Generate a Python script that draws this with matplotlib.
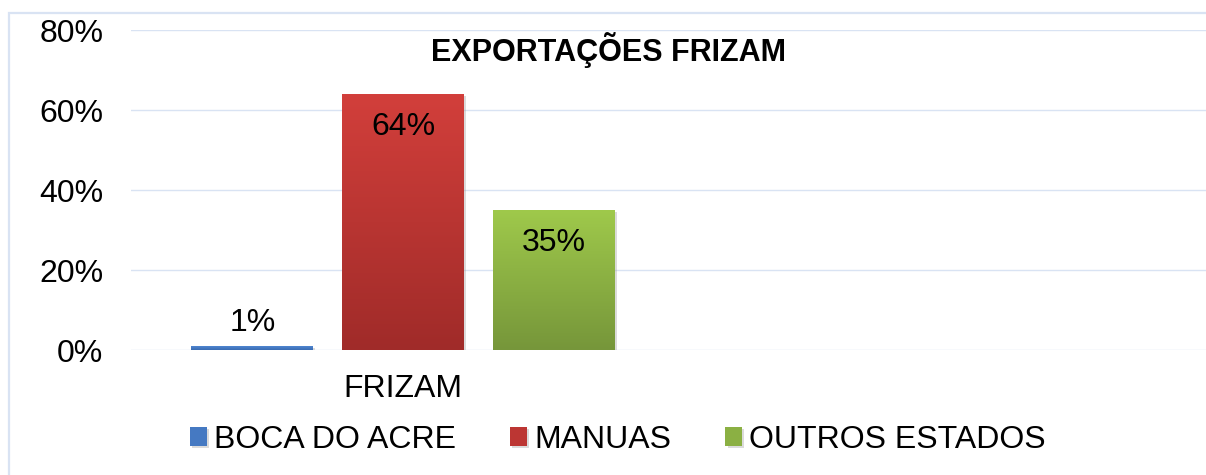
import matplotlib
matplotlib.use("Agg")
import matplotlib.pyplot as plt
import numpy as np
from matplotlib.patches import Rectangle
from matplotlib.colors import LinearSegmentedColormap
import matplotlib.patheffects as pe

plt.rcParams['font.family'] = ['Liberation Sans', 'DejaVu Sans']

# ---- data ----
title = "EXPORTAÇÕES FRIZAM"
categories = ["FRIZAM", ""]
series_names = ["BOCA DO ACRE", "MANUAS", "OUTROS ESTADOS"]
values = [1, 64, 35]  # percent, for category FRIZAM
yticks = [0, 20, 40, 60, 80]
ytick_labels = ["0%", "20%", "40%", "60%", "80%"]

# ---- style ----
top_colors = ["#4F86D0", "#D23F3B", "#9FC94B"]
bot_colors = ["#3A6BB2", "#A02B29", "#76963A"]
mid_colors = ["#4579C2", "#BC3633", "#8BB043"]
grid_color = "#D9E3F3"
W, H = 1206, 475

fig = plt.figure(figsize=(W / 100, H / 100), dpi=100)
fig.patch.set_facecolor("white")

# chart frame (extends past the cropped right/bottom edges)
frame = Rectangle((8.5 / W, -0.1), 1.2, (H - 12.5) / H + 0.1, transform=fig.transFigure,
                  fill=False, edgecolor=grid_color, linewidth=1.6)
fig.patches.append(frame)

ax = fig.add_axes([131 / W, (H - 350) / H, 1 - 131 / W, 320 / H])
ax.set_facecolor("none")

cat_px = 544.0
xl = -0.5
xr = (W - 403) / cat_px
ax.set_xlim(xl, xr)
ax.set_ylim(0, 80)

width = 122 / cat_px
offsets = [-0.277, 0.0, 0.278]

for i, (name, v) in enumerate(zip(series_names, values)):
    bars = ax.bar(0 + offsets[i], v, width=width, color=mid_colors[i], label=name,
                  zorder=3, linewidth=0,
                  path_effects=[pe.SimplePatchShadow(offset=(1.5, -1.5), shadow_rgbFace="#999999", alpha=0.35), pe.Normal()])
    b = bars[0]
    cmap = LinearSegmentedColormap.from_list("g%d" % i, [bot_colors[i], top_colors[i]])
    grad = np.linspace(0, 1, 256).reshape(-1, 1)
    im = ax.imshow(grad, cmap=cmap, aspect="auto", origin="lower",
                   extent=[b.get_x(), b.get_x() + b.get_width(), 0, v], zorder=4)
    im.set_clip_path(b)
    if v < 8:
        ax.annotate(f"{v}%", (b.get_x() + b.get_width() / 2, v), xytext=(0, 6),
                    textcoords="offset points", ha="center", va="bottom", fontsize=23, zorder=5)
    else:
        ax.annotate(f"{v}%", (b.get_x() + b.get_width() / 2, v), xytext=(0, -24),
                    textcoords="offset points", ha="center", va="center", fontsize=23, zorder=5)

ax.set_xlim(xl, xr)
ax.set_ylim(0, 80)
ax.set_yticks(yticks)
ax.set_yticklabels(ytick_labels, fontsize=23)
ax.set_xticks([0])
ax.set_xticklabels([categories[0]], fontsize=23)
ax.tick_params(axis="y", length=0, pad=20)
ax.tick_params(axis="x", length=0, pad=17)
for s in ax.spines.values():
    s.set_visible(False)
ax.yaxis.grid(True, color=grid_color, linewidth=1.0, zorder=0)
ax.set_axisbelow(True)

fig.text(608.5 / W, 1 - 50 / H, title, ha="center", va="center", fontsize=22, fontweight="bold")

leg = fig.legend(loc="center", bbox_to_anchor=(618 / W, 1 - 440 / H), ncol=3, frameon=False,
                 fontsize=23, handlelength=0.53, handleheight=0.53, handletextpad=0.22,
                 columnspacing=1.7, borderaxespad=0)

fig.savefig("out.png", dpi=100, facecolor="white")
